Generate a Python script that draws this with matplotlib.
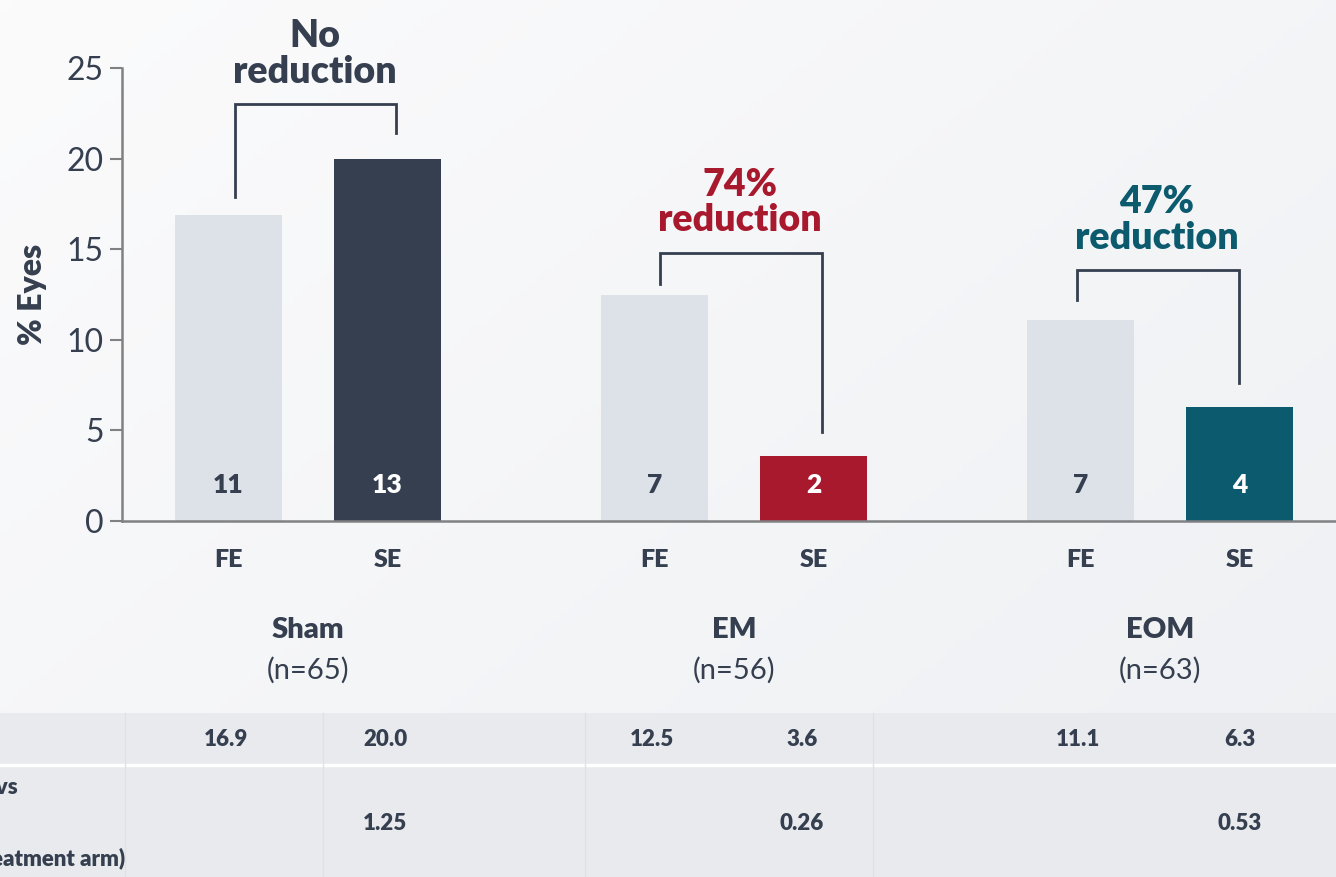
import matplotlib.pyplot as plt
import matplotlib.transforms as mtransforms
from matplotlib.colors import LinearSegmentedColormap
from matplotlib.patches import Rectangle
import numpy as np

plt.rcParams['font.family'] = ['Lato', 'DejaVu Sans']

groups = ['Sham', 'EM', 'EOM']
group_n = ['(n=65)', '(n=56)', '(n=63)']
fe_pct = [16.9, 12.5, 11.1]
se_pct = [20.0, 3.6, 6.3]
fe_count = [11, 7, 7]
se_count = [13, 2, 4]
ratios = ['1.25', '0.26', '0.53']
notes = ['No\nreduction', '74%\nreduction', '47%\nreduction']

dark = '#353f4f'
fe_color = '#dde1e8'
se_colors = ['#353f4f', '#a8192e', '#0b5a6e']
axis_grey = '#7f8183'
heavy = 800

W, H = 1336, 877
fig = plt.figure(figsize=(W / 100, H / 100), dpi=100)

# soft diagonal background wash
bg = fig.add_axes([0, 0, 1, 1], zorder=-10)
gx, gy = np.meshgrid(np.linspace(0, 1, 200), np.linspace(0, 1, 130))
wash = LinearSegmentedColormap.from_list('wash', ['#fbfbfc', '#eef0f3'])
bg.imshow(0.55 * gx + 0.45 * gy, cmap=wash, aspect='auto', extent=[0, 1, 1, 0])
bg.set_axis_off()
bg.add_patch(Rectangle((0, 713 / H), 1, 1, facecolor='#e8eaee', edgecolor='none'))
bg.set_xlim(0, 1)
bg.set_ylim(1, 0)

ax = fig.add_axes([122 / W, 1 - 521 / H, 1 - 122 / W, 453 / H])
ax.set_facecolor('none')
ax.set_zorder(2)

x = np.arange(len(groups))
off, width = 0.1866, 0.251
x_fe, x_se = x - off, x + off

ax.bar(x_fe, fe_pct, width, color=fe_color, zorder=2)
ax.bar(x_se, se_pct, width, color=se_colors, zorder=2)

for i in range(len(groups)):
    ax.text(x_fe[i], 2.0, str(fe_count[i]), ha='center', va='center',
            fontsize=19, fontweight=heavy, color=dark)
    ax.text(x_se[i], 2.0, str(se_count[i]), ha='center', va='center',
            fontsize=19, fontweight=heavy, color='white')

# comparison brackets above each pair of bars
bracket_top = [23.0, 14.8, 13.85]
left_gap = [1.0, 0.6, 1.1]
right_gap = [1.4, 1.3, 1.3]
bracket_shift = [0.015, 0.013, -0.008]
note_colors = [dark, '#a8192e', '#0b5a6e']
for i in range(len(groups)):
    xl, xr = x_fe[i] + bracket_shift[i], x_se[i] + bracket_shift[i] + 0.006
    ax.plot([xl, xl, xr, xr],
            [fe_pct[i] + left_gap[i], bracket_top[i], bracket_top[i], se_pct[i] + right_gap[i]],
            color=dark, lw=2, clip_on=False, solid_joinstyle='miter', zorder=3)
    ax.text(x[i] + bracket_shift[i], bracket_top[i] + 0.85, notes[i], ha='center',
            va='bottom', fontsize=27, fontweight=heavy, color=note_colors[i],
            linespacing=1.05, clip_on=False)

ax.set_xlim(-0.4366, 2.413)
ax.set_ylim(0, 25)
ax.set_yticks([0, 5, 10, 15, 20, 25])
ax.tick_params(axis='y', labelsize=23, colors=axis_grey, labelcolor=dark,
               length=9, width=1.5, pad=4)
ax.set_xticks(np.concatenate([x_fe, x_se]))
ax.set_xticklabels(['FE'] * 3 + ['SE'] * 3, fontsize=18, fontweight=heavy, color=dark)
ax.tick_params(axis='x', length=0, pad=20)
for s in ['top', 'right']:
    ax.spines[s].set_visible(False)
for s in ['left', 'bottom']:
    ax.spines[s].set_color(axis_grey)
    ax.spines[s].set_linewidth(1.8)
ax.set_ylabel('% Eyes', fontsize=23, fontweight=heavy, color=dark, labelpad=14)

# group names and sample sizes below the axis
trans = mtransforms.blended_transform_factory(ax.transData, fig.transFigure)
for i in range(len(groups)):
    ax.text(x[i], 1 - 630 / H, groups[i], transform=trans, ha='center', va='center',
            fontsize=21, fontweight=heavy, color=dark)
    ax.text(x[i], 1 - 670 / H, group_n[i], transform=trans, ha='center', va='center',
            fontsize=21, color=dark)

# summary table along the bottom
fig.add_artist(plt.Line2D([0, 1], [1 - 765 / H] * 2, transform=fig.transFigure,
                          color='white', lw=2.5, zorder=-4))
for px in [125, 323, 585, 873]:
    fig.add_artist(plt.Line2D([px / W] * 2, [0, 1 - 713 / H], transform=fig.transFigure,
                              color='#dfe1e5', lw=1, zorder=-4))
se_col_shift = [-0.005, -0.027, 0.0]
for i in range(len(groups)):
    ax.text(x_fe[i] - 0.005, 1 - 740 / H, f'{fe_pct[i]:.1f}', transform=trans,
            ha='center', va='center', fontsize=16, fontweight=heavy, color=dark)
    ax.text(x_se[i] + se_col_shift[i], 1 - 740 / H, f'{se_pct[i]:.1f}', transform=trans,
            ha='center', va='center', fontsize=16, fontweight=heavy, color=dark)
    ax.text(x_se[i] + se_col_shift[i], 1 - 823 / H, ratios[i], transform=trans,
            ha='center', va='center', fontsize=16, fontweight=heavy, color=dark)
fig.text(18 / W, 1 - 787 / H, 'Ratio SE vs', ha='right', va='center',
         fontsize=16, fontweight=heavy, color=dark)
fig.text(125 / W, 1 - 858 / H, '(within treatment arm)', ha='right', va='center',
         fontsize=16, fontweight=heavy, color=dark)

fig.savefig('out.png', dpi=100)
